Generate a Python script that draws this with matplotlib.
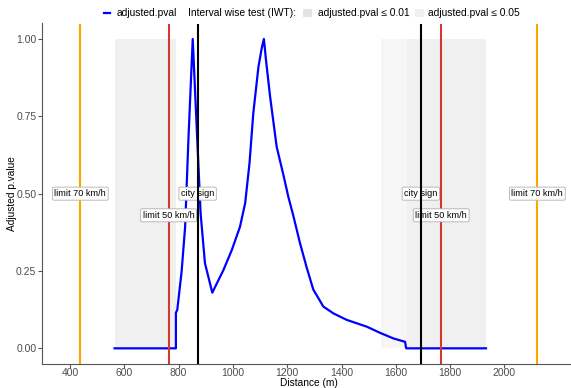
import matplotlib
matplotlib.use("Agg")
import matplotlib.pyplot as plt
from matplotlib.patches import Rectangle
from matplotlib.lines import Line2D

plt.rcParams['font.family'] = ['Liberation Sans', 'DejaVu Sans']

# ---- data ----
dist = [564, 790, 790, 795, 811, 824, 836, 852, 867, 881, 897, 924, 965, 996,
        1026, 1045, 1061, 1075, 1094, 1106, 1114, 1122, 1137, 1161, 1186, 1204, 1222, 1247,
        1272, 1296, 1333, 1370, 1419, 1493, 1542, 1591, 1634, 1638, 1932]
pval = [0, 0, 0.115, 0.124, 0.248, 0.393, 0.673, 1.0, 0.706, 0.436, 0.275, 0.18,
        0.253, 0.318, 0.393, 0.469, 0.598, 0.76, 0.91, 0.97, 1.0, 0.93, 0.813, 0.652, 0.56,
        0.49, 0.43, 0.34, 0.26, 0.19, 0.135, 0.113, 0.092, 0.07, 0.05, 0.032,
        0.021, 0.0, 0.0]

sig01_regions = [(564, 789), (1642, 1932)]
sig05_regions = [(1546, 1642)]

city_sign = [870, 1692]
limit50 = [763, 1767]
limit70 = [438, 2121]

xticks = [400, 600, 800, 1000, 1200, 1400, 1600, 1800, 2000]
yticks = [0.00, 0.25, 0.50, 0.75, 1.00]
ytick_labels = ["0.00", "0.25", "0.50", "0.75", "1.00"]

# ---- figure ----
W, H = 571, 388
fig = plt.figure(figsize=(W / 100, H / 100), dpi=100)

def fx(px):
    return px / W

def fy(py):
    return 1 - py / H

left, right, top, bottom = 42.3, 571, 23.5, 363.8
ax = fig.add_axes([fx(left), fy(bottom), fx(right) - fx(left), fy(top) - fy(bottom)])
ax.set_xlim(298, 2245)
ax.set_ylim(-0.05, 1.05)

dark = '#F0F0F0'
light = '#F6F6F6'
for a, b in sig01_regions:
    ax.add_patch(Rectangle((a, 0), b - a, 1, facecolor=dark, edgecolor='none', zorder=0))
for a, b in sig05_regions:
    ax.add_patch(Rectangle((a, 0), b - a, 1, facecolor=light, edgecolor='none', zorder=0))

ax.plot(dist, pval, color='#0000FF', lw=1.6, zorder=2, solid_joinstyle='round')

red = '#D33A2F'
orange = '#FFA500'
for x in limit70:
    ax.axvline(x, color=orange, lw=1.5, zorder=3)
for x in limit50:
    ax.axvline(x, color=red, lw=1.5, zorder=3)
for x in city_sign:
    ax.axvline(x, color='black', lw=1.5, zorder=6)

bbox = dict(boxstyle='round,pad=0.22,rounding_size=0.15', fc='white', ec='#B0B0B0', lw=0.6)
lab_fs = 6.6
for x in limit70:
    ax.text(x, 0.5, "limit 70 km/h", ha='center', va='center', fontsize=lab_fs,
            bbox=bbox, zorder=4)
for x in limit50:
    ax.text(x, 0.43, "limit 50 km/h", ha='center', va='center', fontsize=lab_fs,
            bbox=bbox, zorder=4)
for x in city_sign:
    ax.text(x, 0.5, "city sign", ha='center', va='center', fontsize=lab_fs,
            bbox=bbox, zorder=4)

for s in ['top', 'right']:
    ax.spines[s].set_visible(False)
for s in ['left', 'bottom']:
    ax.spines[s].set_color('#555555')
    ax.spines[s].set_linewidth(0.8)
ax.set_xticks(xticks)
ax.set_xticklabels([str(t) for t in xticks])
ax.set_yticks(yticks)
ax.set_yticklabels(ytick_labels)
ax.tick_params(axis='both', colors='#555555', labelcolor='#4D4D4D', labelsize=7.5,
               length=3.1, width=0.8)
ax.tick_params(axis='x', pad=0.2)
ax.tick_params(axis='y', pad=1.2)
ax.patch.set_alpha(0)

fig.text(fx(309), fy(383), "Distance (m)", fontsize=7.3, ha='center', va='center')
fig.text(fx(12), fy(193.5), "Adjusted p.value", fontsize=7.3, ha='center', va='center',
         rotation=90)

# ---- legend (top) ----
ly = 12.5
fig.add_artist(Line2D([fx(103.5), fx(109.5)], [fy(ly), fy(ly)], color='#0000FF', lw=1.6,
                      transform=fig.transFigure))
fig.text(fx(116.5), fy(ly), "adjusted.pval", fontsize=7.4, va='center', ha='left')
fig.text(fx(188), fy(ly), "Interval wise test (IWT):", fontsize=7.4, va='center', ha='left')
fig.add_artist(Rectangle((fx(303), fy(17)), fx(9), fy(8.5) - fy(17), facecolor='#E3E3E3',
                         edgecolor='none', transform=fig.transFigure))
fig.text(fx(317.5), fy(ly), "adjusted.pval \u2264 0.01", fontsize=7.4, va='center', ha='left')
fig.add_artist(Rectangle((fx(414.5), fy(17)), fx(9), fy(8.5) - fy(17), facecolor='#F0F0F0',
                         edgecolor='none', transform=fig.transFigure))
fig.text(fx(428), fy(ly), "adjusted.pval \u2264 0.05", fontsize=7.4, va='center', ha='left')

fig.savefig("out.png", dpi=100)
